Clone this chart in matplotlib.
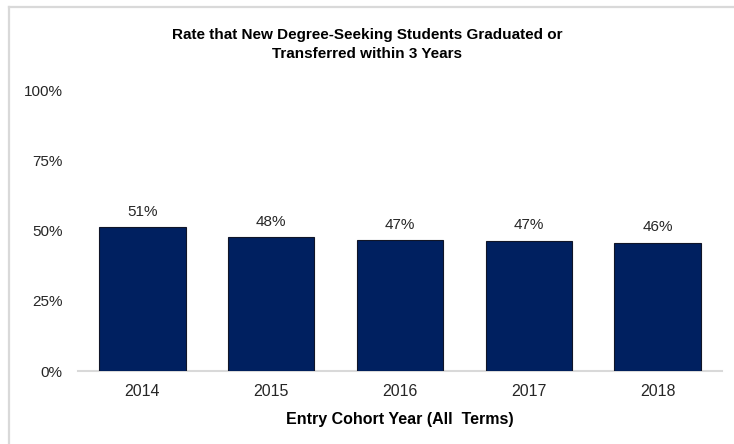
import matplotlib
matplotlib.use("Agg")
import matplotlib.pyplot as plt
from matplotlib import font_manager
from matplotlib.lines import Line2D

# cohort graduation / transfer rates (percent)
years = ["2014", "2015", "2016", "2017", "2018"]
rates = [51.3, 47.7, 46.8, 46.6, 45.8]
y_ticks = [0, 25, 50, 75, 100]

title = "Rate that New Degree-Seeking Students Graduated or\nTransferred within 3 Years"
x_title = "Entry Cohort Year (All  Terms)"

plt.rcParams["font.family"] = ["Liberation Sans", "DejaVu Sans"]

# narrow face for the heading when it is installed
try:
    font_manager.findfont("Liberation Sans Narrow", fallback_to_default=False)
    title_font, title_size = "Liberation Sans Narrow", 12.5
except ValueError:
    title_font, title_size = "Liberation Sans", 11

fig = plt.figure(figsize=(7.34, 4.44), dpi=100)
ax = fig.add_axes([78 / 734, 73 / 444, 644 / 734, 280 / 444])

x = range(len(years))
bars = ax.bar(x, rates, width=0.67, color="#002060",
              edgecolor="#101528", linewidth=0.8, zorder=2)

for b, v in zip(bars, rates):
    ax.annotate(f"{v:.0f}%", xy=(b.get_x() + b.get_width() / 2, v),
                xytext=(0, 6), textcoords="offset points",
                ha="center", va="bottom", fontsize=11, color="#262626")

ax.set_xlim(-0.5, len(years) - 0.5)
ax.set_ylim(0, 100)
ax.set_yticks(y_ticks)
ax.set_yticklabels([f"{t}%" for t in y_ticks])
ax.set_xticks(list(x))
ax.set_xticklabels(years)
ax.tick_params(axis="y", length=0, pad=11, labelsize=11, labelcolor="#262626")
ax.tick_params(axis="x", length=0, pad=9.5, labelsize=11.5, labelcolor="#262626")

for s in ["top", "right", "left"]:
    ax.spines[s].set_visible(False)
ax.spines["bottom"].set_color("#d9d9d9")
ax.spines["bottom"].set_linewidth(1.5)
ax.spines["bottom"].set_zorder(1)

ax.set_xlabel(x_title, fontsize=11.5, fontweight="bold", labelpad=9)
fig.text(0.5, 1 - 44.5 / 444, title, ha="center", va="center",
         fontsize=title_size, fontweight="bold", linespacing=1.5,
         family=[title_font, "Liberation Sans"])

# light frame around the chart area
fig.add_artist(Line2D([8.5 / 734, 8.5 / 734], [0, 1 - 7.5 / 444],
                      transform=fig.transFigure, color="#d9d9d9", lw=1.6))
fig.add_artist(Line2D([8.5 / 734, 1], [1 - 7.5 / 444, 1 - 7.5 / 444],
                      transform=fig.transFigure, color="#d9d9d9", lw=1.6))

fig.savefig("out.png", dpi=100)
